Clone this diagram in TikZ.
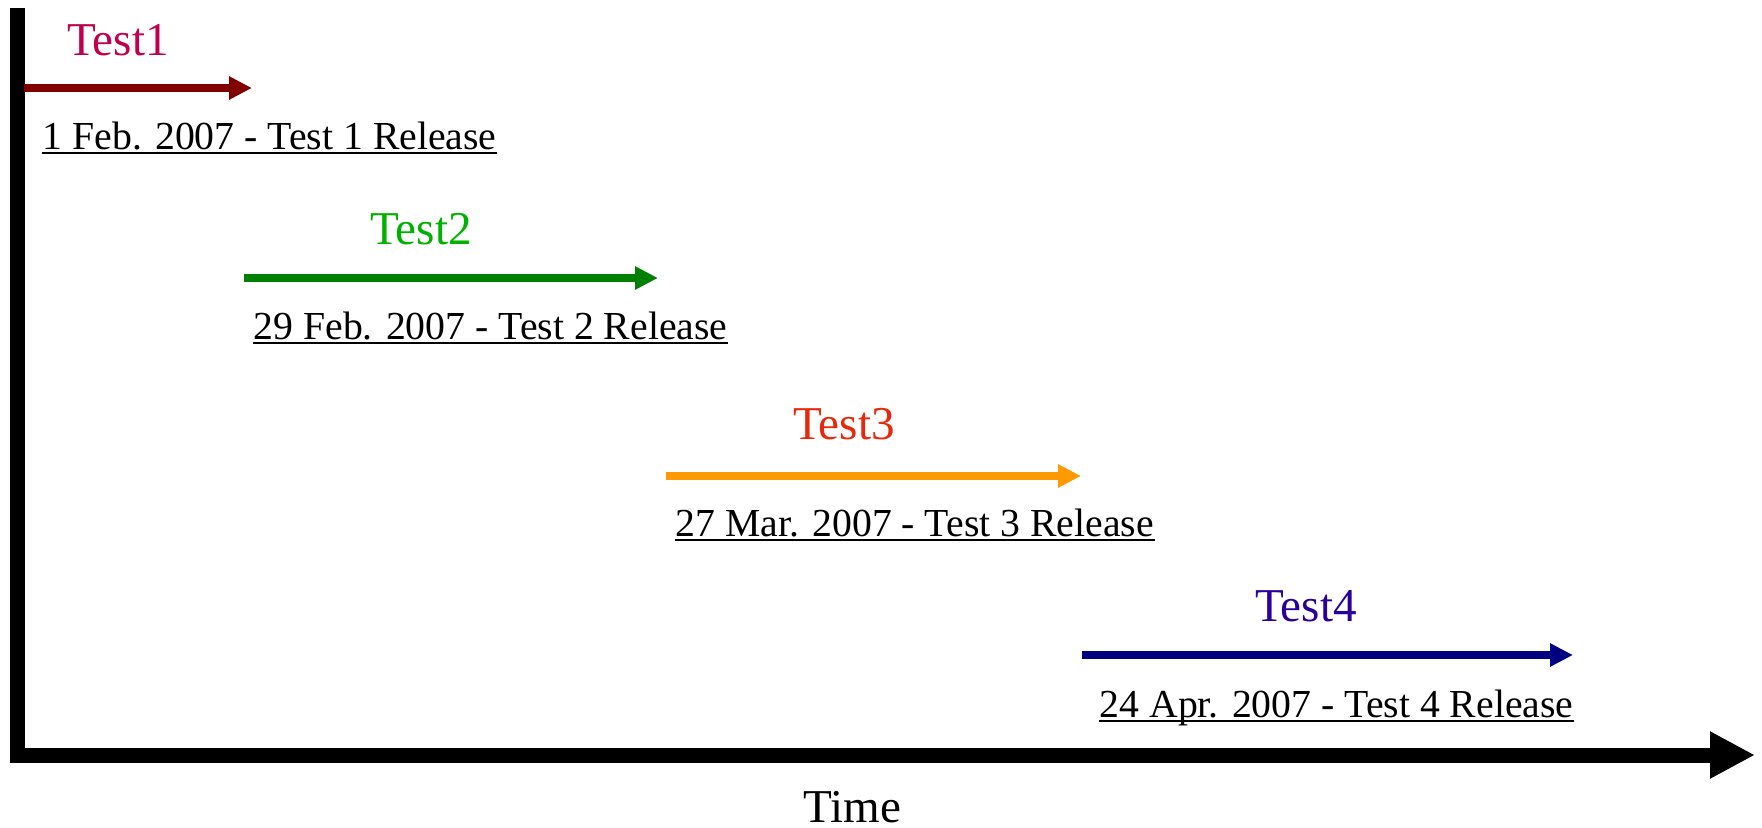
\documentclass[tikz,border=0pt]{standalone}
\usepackage{fontspec}
\setmainfont{Liberation Serif}
\usetikzlibrary{arrows.meta,calc}
\definecolor{tonecrimson}{RGB}{192,0,78}
\definecolor{toneblood}{RGB}{128,0,0}
\definecolor{tonelime}{RGB}{0,178,0}
\definecolor{toneforest}{RGB}{0,128,0}
\definecolor{tonevermilion}{RGB}{232,40,10}
\definecolor{toneamber}{RGB}{255,153,0}
\definecolor{toneindigo}{RGB}{40,0,155}
\definecolor{tonenavy}{RGB}{0,0,128}
\begin{document}
\begin{tikzpicture}[x=0.1mm,y=-0.1mm,
  axis/.style={line width=1.5mm, line join=miter, -{Triangle[length=4.5mm,width=4.4mm]}},
  phase/.style={line width=0.8mm, -{Triangle[length=2.3mm,width=2.2mm]}},
  title/.style={font=\fontsize{13.4}{16}\selectfont, inner sep=0pt, anchor=base},
  date/.style={font=\fontsize{11.3}{13}\selectfont, inner sep=0pt, anchor=base west},
  uline/.style={line width=0.2mm}]
\useasboundingbox (0,0) rectangle (1762,827);

% axes
\coordinate (ytop) at (17,8);
\coordinate (origin) at (17,755);
\coordinate (xend) at (1755,755);
\draw[axis] (ytop) -- (origin) -- (xend);
\node[title, font=\fontsize{13.4}{16}\selectfont] (time) at (852,822) {Time};

% phase 1
\coordinate (s1) at (24,88);
\coordinate (e1) at (252,88);
\draw[phase, toneblood] (s1) -- (e1);
\node[title, text=tonecrimson] (t1) at (118,55) {Test1};
\node[date] (d1) at (42,149) {1 Feb. 2007 - Test 1 Release};
\draw[uline] ($(d1.base west)+(0,4)$) -- ($(d1.base east)+(0,4)$);

% phase 2
\coordinate (s2) at (244,278);
\coordinate (e2) at (658,278);
\draw[phase, toneforest] (s2) -- (e2);
\node[title, text=tonelime] (t2) at (421,244) {Test2};
\node[date] (d2) at (253,339) {29 Feb. 2007 - Test 2 Release};
\draw[uline] ($(d2.base west)+(0,4)$) -- ($(d2.base east)+(0,4)$);

% phase 3
\coordinate (s3) at (666,476);
\coordinate (e3) at (1081,476);
\draw[phase, toneamber] (s3) -- (e3);
\node[title, text=tonevermilion] (t3) at (844,439) {Test3};
\node[date] (d3) at (675,536) {27 Mar. 2007 - Test 3 Release};
\draw[uline] ($(d3.base west)+(0,4)$) -- ($(d3.base east)+(0,4)$);

% phase 4
\coordinate (s4) at (1082,655);
\coordinate (e4) at (1573,655);
\draw[phase, tonenavy] (s4) -- (e4);
\node[title, text=toneindigo] (t4) at (1306,621) {Test4};
\node[date] (d4) at (1099,717) {24 Apr. 2007 - Test 4 Release};
\draw[uline] ($(d4.base west)+(0,4)$) -- ($(d4.base east)+(0,4)$);
\end{tikzpicture}
\end{document}
